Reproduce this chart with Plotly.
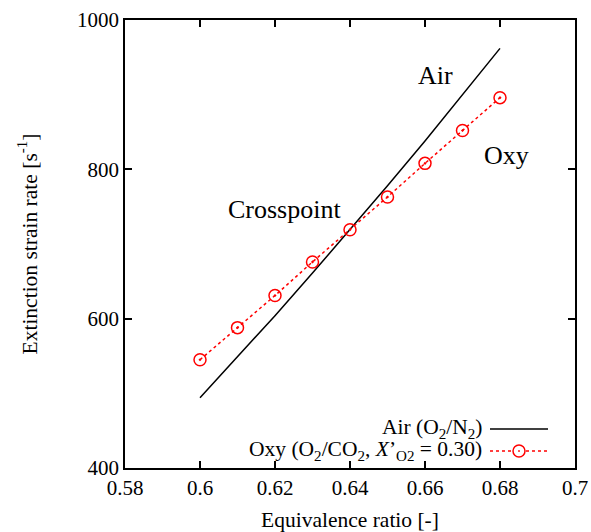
import plotly.graph_objects as go

phi = [0.60, 0.61, 0.62, 0.63, 0.64, 0.65, 0.66, 0.67, 0.68]
air = [494, 549, 604, 661, 719, 778, 838, 900, 962]
oxy = [545, 588, 631, 676, 719, 763, 808, 852, 896]

air_name = "Air (O<sub>2</sub>/N<sub>2</sub>)"
oxy_name = "Oxy (O<sub>2</sub>/CO<sub>2</sub>, <i>X</i>\u2019<sub>O2</sub> = 0.30)"

FONT = "Liberation Serif"

fig = go.Figure()
fig.add_trace(go.Scatter(x=phi, y=air, mode="lines", name=air_name,
                         line=dict(color="black", width=1.5), showlegend=False))
fig.add_trace(go.Scatter(x=phi, y=oxy, mode="lines+markers", name=oxy_name,
                         line=dict(color="red", width=1.5, dash="dot"),
                         marker=dict(symbol="circle-open-dot", size=12, color="red",
                                     line=dict(width=1.5, color="red")),
                         showlegend=False))

# texts in plot
for txt, x, y in [("Air", 0.6629, 926), ("Oxy", 0.6816, 818), ("Crosspoint", 0.6224, 746)]:
    fig.add_annotation(x=x, y=y, text=txt, showarrow=False,
                       font=dict(family=FONT, size=26, color="black"))

# manual legend (text left, sample right) in pixel-based paper coords
W, H = 591, 532
L, R, T, B = 125, 16, 20, 64
pw, ph = W - L - R, H - T - B

def px(xp):
    return (xp - L) / pw

def py(yp):
    return 1 - (yp - T) / ph

legend_rows = [(air_name, 428, "air"), (oxy_name, 450, "oxy")]
for txt, yp, kind in legend_rows:
    fig.add_annotation(xref="paper", yref="paper", x=px(484), y=py(yp), text=txt,
                       showarrow=False, xanchor="right", yanchor="middle",
                       font=dict(family=FONT, size=21.5, color="black"))
    sy = yp + 1
    if kind == "air":
        fig.add_shape(type="line", xref="paper", yref="paper",
                      x0=px(490), x1=px(548), y0=py(sy), y1=py(sy),
                      line=dict(color="black", width=1.5))
    else:
        fig.add_shape(type="line", xref="paper", yref="paper",
                      x0=px(490), x1=px(548), y0=py(sy), y1=py(sy),
                      line=dict(color="red", width=1.5, dash="dot"))
        fig.add_shape(type="circle", xref="paper", yref="paper",
                      x0=px(513), x1=px(525), y0=py(sy + 6), y1=py(sy - 6),
                      line=dict(color="red", width=1.5), fillcolor="white")
        fig.add_shape(type="circle", xref="paper", yref="paper",
                      x0=px(518.5), x1=px(519.5), y0=py(sy + 0.5), y1=py(sy - 0.5),
                      line=dict(color="red", width=1), fillcolor="red")

axis_common = dict(showline=True, linecolor="black", linewidth=1.5, mirror="ticks",
                   ticks="inside", ticklen=7, tickwidth=1.5, tickcolor="black",
                   showgrid=False, zeroline=False, automargin=False,
                   tickfont=dict(family=FONT, size=21, color="black"))

fig.update_xaxes(range=[0.58, 0.70], tickvals=[0.58, 0.6, 0.62, 0.64, 0.66, 0.68, 0.7],
                 ticktext=["0.58", "0.6", "0.62", "0.64", "0.66", "0.68", "0.7"],
                 title=dict(text="Equivalence ratio [-]", font=dict(family=FONT, size=21.5, color="black"),
                            standoff=14),
                 **axis_common)
fig.update_yaxes(range=[400, 1000], tickvals=[400, 600, 800, 1000],
                 title=dict(text="Extinction strain rate [s<sup>-1</sup>]",
                            font=dict(family=FONT, size=21.5, color="black"), standoff=34),
                 **axis_common)

fig.update_layout(width=W, height=H, margin=dict(l=L, r=R, t=T, b=B),
                  plot_bgcolor="white", paper_bgcolor="white", showlegend=False)

fig.write_html("out.html")
